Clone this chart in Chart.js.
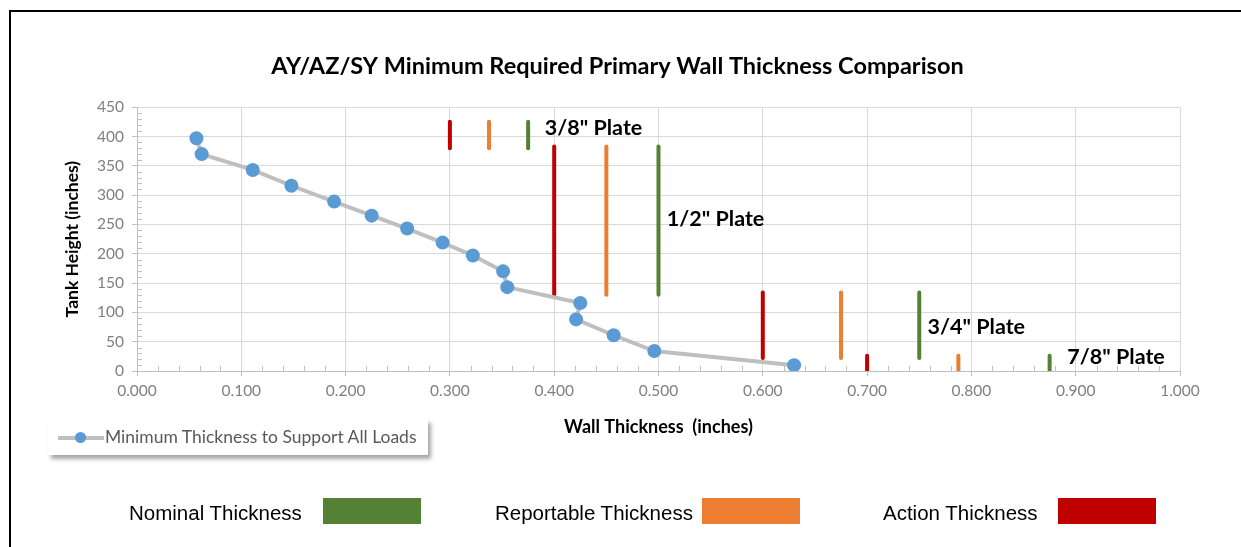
<!DOCTYPE html>
<html>
<head>
<meta charset="utf-8">
<script src="https://cdn.jsdelivr.net/npm/chart.js@4.4.1/dist/chart.umd.min.js"></script>
<style>
  html, body { margin: 0; padding: 0; background: #fff; }
  #wrap { position: relative; width: 1241px; height: 547px; overflow: hidden; }
  #frame { position: absolute; left: 9px; top: 10px; width: 1300px; height: 600px;
           border-left: 2px solid #000; border-top: 2px solid #000; }
  #chart { position: absolute; left: 0; top: 0; }
  #serLegend { position: absolute; left: 48px; top: 419px; width: 380px; height: 36px;
               background: #fff; box-shadow: 3px 4px 4px rgba(0,0,0,0.35);
               font-family: Lato, sans-serif; font-size: 17.5px; color: #595959; }
  #serLegend .ln { position: absolute; left: 10px; top: 17px; width: 46px; height: 4px; background: #bfbfbf; }
  #serLegend .dot { position: absolute; left: 27px; top: 13px; width: 11px; height: 11px; border-radius: 50%; background: #5b9bd5; }
  #serLegend .tx { position: absolute; left: 57px; top: 7px; white-space: nowrap; }
  .bl { position: absolute; top: 500px; font-family: "Liberation Sans", Arial, sans-serif;
        font-size: 20.5px; color: #000; line-height: 26px; white-space: nowrap; }
  .sw { position: absolute; top: 498px; width: 98px; height: 26px; }
</style>
</head>
<body>
<div id="wrap">
  <div id="frame"></div>
  <canvas id="chart" width="1241" height="547"></canvas>
  <div id="serLegend"><div class="ln"></div><div class="dot"></div><div class="tx">Minimum Thickness to Support All Loads</div></div>
  <div class="bl" style="left:129px">Nominal Thickness</div>
  <div class="sw" style="left:323px;background:#548235"></div>
  <div class="bl" style="left:495px">Reportable Thickness</div>
  <div class="sw" style="left:702px;background:#ed7d31"></div>
  <div class="bl" style="left:883px">Action Thickness</div>
  <div class="sw" style="left:1058px;background:#c00000"></div>
</div>
<script>
// minimum thickness curve
var wallThickness = [0.057, 0.062, 0.111, 0.148, 0.189, 0.225, 0.259, 0.293, 0.322, 0.351, 0.355, 0.425, 0.421, 0.457, 0.496, 0.630];
var tankHeight = [397, 370, 343, 316, 289, 265, 243, 219, 197, 170, 143, 116, 88, 61, 34, 10];

// plate groups: 3/8, 1/2, 3/4, 7/8
var plateNames = ['3/8" Plate', '1/2" Plate', '3/4" Plate', '7/8" Plate'];
var nominal = [0.375, 0.5, 0.75, 0.875];
var reportable = [0.3375, 0.45, 0.675, 0.7875];
var action = [0.3, 0.4, 0.6, 0.7];
var rangeLow = [380, 130, 22, 0];
var rangeHigh = [425, 383, 134, 26];
// label anchors (data units)
var labelX = [0.391, 0.508, 0.758, 0.892];
var labelY = [415, 259, 75, 24];

var datasets = [];
datasets.push({
  label: 'Minimum Thickness to Support All Loads',
  data: wallThickness.map(function(x, i) { return { x: x, y: tankHeight[i] }; }),
  showLine: true,
  borderColor: '#bfbfbf',
  borderWidth: 4,
  backgroundColor: '#5b9bd5',
  pointBackgroundColor: '#5b9bd5',
  pointBorderColor: '#5b9bd5',
  pointRadius: 5,
  order: 0
});

function addBars(xs, color) {
  xs.forEach(function(x, i) {
    datasets.push({
      label: '',
      data: [{ x: x, y: rangeLow[i] }, { x: x, y: rangeHigh[i] }],
      showLine: true,
      borderColor: color,
      borderWidth: 4,
      borderCapStyle: 'round',
      pointRadius: 0,
      order: 1
    });
  });
}
addBars(action, '#c00000');
addBars(reportable, '#ed7d31');
addBars(nominal, '#548235');

var plateLabels = {
  id: 'plateLabels',
  afterDatasetsDraw: function(chart) {
    var c = chart.ctx, xs = chart.scales.x, ys = chart.scales.y;
    c.save();
    c.font = 'bold 21.5px Lato, sans-serif';
    c.fillStyle = '#000';
    c.textBaseline = 'middle';
    plateNames.forEach(function(t, i) {
      c.fillText(t, xs.getPixelForValue(labelX[i]), ys.getPixelForValue(labelY[i]));
    });
    c.restore();
  }
};

// small inside ticks between the labelled ones
var minorTicks = {
  id: 'minorTicks',
  afterDraw: function(chart) {
    var c = chart.ctx, xs = chart.scales.x, ys = chart.scales.y;
    var bottom = ys.getPixelForValue(0), left = xs.getPixelForValue(0);
    c.save();
    c.strokeStyle = '#bfbfbf';
    c.lineWidth = 1;
    c.beginPath();
    for (var k = 1; k < 50; k++) {
      if (k % 5 === 0) continue;
      var px = Math.round(xs.getPixelForValue(k * 0.02)) + 0.5;
      c.moveTo(px, bottom); c.lineTo(px, bottom - 5);
    }
    for (var j = 1; j < 45; j++) {
      if (j % 5 === 0) continue;
      var py = Math.round(ys.getPixelForValue(j * 10)) + 0.5;
      c.moveTo(left, py); c.lineTo(left + 5, py);
    }
    c.stroke();
    c.restore();
  }
};

new Chart(document.getElementById('chart'), {
  type: 'scatter',
  data: { datasets: datasets },
  plugins: [plateLabels, minorTicks],
  options: {
    responsive: false,
    animation: false,
    layout: { padding: { left: 55, right: 61, top: 0, bottom: 106 } },
    plugins: {
      legend: { display: false },
      tooltip: { enabled: false },
      title: {
        display: true,
        text: 'AY/AZ/SY Minimum Required Primary Wall Thickness Comparison',
        color: '#000',
        font: { family: 'Lato', size: 23.5, weight: 'bold' },
        padding: { top: 52, bottom: 27 }
      }
    },
    scales: {
      x: {
        type: 'linear',
        min: 0, max: 1,
        afterFit: function(s) { s.height = 70; },
        ticks: {
          stepSize: 0.1,
          autoSkip: false,
          maxRotation: 0,
          padding: 6,
          color: '#808080',
          font: { family: 'Lato', size: 15.5 },
          callback: function(v) { return v.toFixed(3); }
        },
        grid: { color: '#d9d9d9', tickColor: '#bfbfbf', tickLength: 5 },
        border: { color: '#bfbfbf' },
        title: {
          display: true,
          text: 'Wall Thickness  (inches)',
          color: '#000',
          font: { family: 'Lato', size: 18, weight: 'bold' },
          padding: { top: 4, bottom: 3 }
        }
      },
      y: {
        min: 0, max: 450,
        afterFit: function(s) { s.width = 82; },
        ticks: {
          stepSize: 50,
          autoSkip: false,
          padding: 8,
          color: '#808080',
          font: { family: 'Lato', size: 15.5 }
        },
        grid: { color: '#d9d9d9', tickColor: '#bfbfbf', tickLength: 5 },
        border: { color: '#bfbfbf' },
        title: {
          display: true,
          text: 'Tank Height (inches)',
          color: '#000',
          font: { family: 'Lato', size: 17.5, weight: 'bold' },
          padding: { top: 7, bottom: 4 }
        }
      }
    }
  }
});
</script>
</body>
</html>
